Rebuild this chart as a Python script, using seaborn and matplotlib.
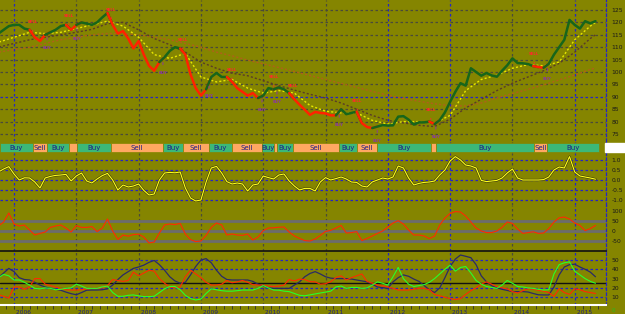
import numpy as np
import pandas as pd
import matplotlib
matplotlib.use("Agg")
import matplotlib.pyplot as plt
import seaborn as sns

sns.set_theme(style="white")
plt.rcParams["font.family"] = ["DejaVu Sans"]

# ---------------- data (monthly, starting Oct 2005) ----------------
START_YEAR = 2005.75
price = [115.5, 117, 118.5, 119, 119, 117.5, 117, 114, 112.5, 115,
         116, 117, 118.5, 119, 117, 119, 120, 119.5, 119, 120,
         122, 123.8, 119, 115.5, 116.5, 113.5, 109.5, 112.5, 107, 102.5,
         100.5, 104, 106, 108.5, 110, 109.5, 107, 99, 93.5, 90.5,
         93, 98, 99.6, 98, 98, 96, 93.5, 92, 90.5, 91.5,
         89.5, 90.5, 93.5, 93, 93.8, 93, 91.5, 89, 86.8, 84.8,
         82.7, 83.9, 83.5, 83.3, 82.5, 82.5, 85, 83, 83.5, 84,
         79.4, 77.8, 77.4, 78, 78.6, 78.4, 78.5, 82, 82.2, 80.8,
         78.8, 79.7, 79.7, 80, 79, 80.6, 83.7, 88, 92, 95.5,
         94.5, 101.5, 100, 98.5, 99.6, 98.6, 98.1, 100.5, 102.7, 105.5,
         103.6, 103.5, 103.2, 102.4, 102, 101.7, 103.3, 107, 110, 113,
         121, 119, 117.5, 120.5, 119.6, 120.5]

osc = [0.4, 0.55, 0.67, 0.3, 0.0, 0.11, 0.1, -0.1, -0.4, 0.1,
       0.18, 0.23, 0.25, 0.28, -0.05, 0.2, 0.35, -0.05, -0.15, 0.05,
       0.22, 0.33, 0.0, -0.5, -0.25, -0.35, -0.3, -0.2, -0.52, -0.75,
       -0.7, 0.0, 0.35, 0.38, 0.36, 0.4, -0.4, -0.9, -1.05, -1.0,
       -0.1, 0.6, 0.68, 0.35, -0.08, -0.2, -0.15, -0.2, -0.55, -0.25,
       -0.2, 0.2, 0.12, 0.05, 0.25, 0.3, -0.05, -0.3, -0.5, -0.42,
       -0.42, -0.55, -0.1, 0.12, 0.0, 0.07, 0.15, 0.05, -0.1, -0.12,
       -0.3, -0.35, -0.1, 0.0, 0.1, 0.05, 0.15, 0.7, 0.6, 0.1,
       -0.25, -0.17, -0.12, -0.1, -0.05, 0.25, 0.5, 0.95, 1.17, 1.0,
       0.75, 0.7, 0.6, -0.02, -0.08, -0.05, -0.02, 0.1, 0.35, 0.55,
       0.1, 0.0, 0.0, 0.0, 0.0, 0.02, 0.15, 0.5, 0.65, 0.6,
       1.17, 0.4, 0.2, 0.15, 0.1, 0.04]

cci = [25, 45, 90, 35, 25, 30, 5, -20, -12, -5,
       18, 25, 30, 15, -5, 27, 18, 18, 22, -3,
       15, 60, 0, -42, -20, -26, -18, -16, -30, -60,
       -55, -10, 30, 35, 32, 38, -15, -43, -53, -50,
       -22, 18, 40, 30, -20, -15, -20, -22, -15, -45,
       -30, 2, 15, 16, 19, 20, -5, -25, -37, -48,
       -50, -40, -22, -2, 3, 15, 28, -10, -8, -3,
       -48, -37, -25, -12, 0, 20, 40, 52, 35, 5,
       -20, -20, -25, -38, -25, 30, 65, 88, 97, 95,
       75, 45, 15, 0, -8, -8, 0, 18, 45, 38,
       10, -12, -8, -4, -12, -10, 12, 45, 66, 70,
       60, 40, 28, 2, 12, 28]

adx = [31, 36, 41, 37.5, 31, 29, 28.5, 26, 23, 21,
       19.5, 18.5, 17.5, 15.5, 13.8, 12.6, 15, 17.5, 17.7, 17.7,
       18, 19, 23, 29, 34, 37.5, 41, 42.5, 44.5, 47.5,
       49.5, 45, 39, 32, 27.5, 25, 26, 34, 43, 50,
       51.5, 47, 39, 32.5, 29, 28.5, 28.5, 28.5, 28.5, 27,
       24, 22, 20, 19.5, 19.5, 19.5, 19.5, 23, 26.5, 32,
       35.5, 37.5, 35, 32, 30.5, 30, 30, 30, 29.5, 28.5,
       27.5, 26.5, 24, 21, 20.3, 19.5, 26.5, 31, 34, 32.5,
       29.5, 27, 22.5, 18, 15, 20, 31, 43, 51, 55.4,
       54, 52.5, 45, 33, 26.5, 22.3, 20, 18.5, 17.3, 16,
       16, 16, 15.6, 14, 12.6, 12.4, 12.4, 21, 34, 42.5,
       45, 45.5, 42.5, 40, 37, 32]

di_minus = [12.5, 11, 9, 21, 21, 18.5, 21, 30, 30, 24,
            22.5, 21, 19.5, 18, 17.7, 17.7, 18, 19, 19.5, 19.5,
            20, 22.5, 29, 28, 27, 28, 37, 33, 36, 39,
            38, 30, 25, 21, 20, 21, 32, 39, 35, 31,
            26, 23, 23, 24, 28, 25.5, 26.5, 28, 26, 23.5,
            23, 23, 22, 21.5, 22, 23, 29, 27.5, 29.5, 29,
            26.7, 26.5, 24, 24.5, 26.7, 31, 33, 28.5, 31, 33,
            35, 27, 25, 23, 22, 21, 19.5, 17.7, 17.7, 17.7,
            18.5, 19.5, 19.5, 18, 13, 11.5, 10, 8.5, 7.5, 8.5,
            13, 17, 20, 24, 26.5, 24, 21.5, 20, 19, 16,
            14.5, 17, 19, 18.5, 17.5, 16.5, 15, 11, 19, 15,
            13, 19, 18, 16, 15, 14]

di_plus = [31, 34.5, 33, 28.5, 28.5, 26, 23, 19.5, 19, 20,
           19.5, 18, 18.5, 19.5, 20, 24, 22, 19.5, 19.5, 19.5,
           21, 22, 15, 11, 11, 12, 12.4, 11.5, 10.6, 10.6,
           11, 15, 19, 21.5, 21.5, 18, 12, 8.5, 7, 8,
           14, 19, 18, 17, 16.5, 16.5, 17, 17.7, 17.7, 17.7,
           19.5, 22.5, 20, 17.7, 17.5, 16.5, 16, 14, 12, 11.5,
           12.5, 13.5, 14.5, 15.5, 16.5, 21, 22, 19.5, 20.5, 20.5,
           19.5, 20, 23, 26.5, 25, 23, 32, 42, 30, 24,
           21.5, 22.5, 23.5, 26, 30, 35, 40, 44.5, 38, 42,
           43, 36, 28, 24, 21.5, 20.5, 19.5, 23, 28, 25,
           21.5, 21, 20, 19.5, 18.5, 17.7, 18, 35, 45, 47,
           48, 38, 34, 30, 27, 25]

# moving averages, read quarterly (last point = last bar)
ma_years = [2005.75 + 0.25 * k for k in range(39)] + [2015.333]
ma_short = [112, 114, 116, 115.5, 116, 117.5, 119, 120.5, 118.5, 114,
            107, 105.5, 107.5, 98, 96, 97, 93.5, 91.5, 92.5, 91.5,
            86.5, 84.2, 83.5, 83.5, 80.5, 79, 80, 80, 79.5, 82.5,
            92.5, 97, 98.7, 101.5, 103, 102.5, 104, 113, 118.5, 120]
ma_mid = [110, 111.5, 113, 114, 115, 116, 117.2, 119.5, 120, 117,
          113.5, 111, 108, 104, 101.5, 99.5, 98.5, 96.5, 94.5, 92.7,
          91, 89.5, 87.5, 85, 82.5, 80.5, 79.5, 78.5, 78, 81,
          85.5, 89, 92.5, 95.5, 98, 100.5, 103.5, 108, 113.5, 115]
ma_long = [108, 109, 110, 111.5, 113, 114, 115, 115.5, 115.5, 115,
           114, 113, 111.5, 110, 108, 106.5, 104.8, 103.3, 101.8, 100.2,
           98.6, 97, 95.4, 93.8, 92.2, 90.6, 89.3, 88.2, 87.2, 86.4,
           86.3, 87.5, 89.5, 91.3, 93, 94.8, 96.8, 98.8, 101, 101.6]

# signal regimes (decimal years)
sig_start = [2005.78, 2006.30, 2006.53, 2006.88, 2007.01, 2007.56, 2008.39,
             2008.71, 2009.13, 2009.50, 2009.98, 2010.17, 2010.22, 2010.48,
             2011.22, 2011.51, 2011.83, 2012.69, 2012.77, 2014.35, 2014.56]
sig_end = sig_start[1:] + [2015.39]
sig_type = ["Buy", "Sell"] * 10 + ["Buy"]

year_ticks = list(range(2006, 2016))
blue_years = [2006, 2012, 2013, 2015]

# ---------------- layout ----------------
W, H = 625, 314
OLIVE = "#858500"
NAVY = "#1c1c8a"
GRIDBLUE = "#2424c8"
GRIDGRAY = "#4a4a3a"
XMIN, XMAX = 2005.775, 2015.502

fig = plt.figure(figsize=(W / 100, H / 100), dpi=100, facecolor=OLIVE)


def panel(top, bottom):
    ax = fig.add_axes([0, 1 - bottom / H, 606 / W, (bottom - top) / H])
    ax.set_facecolor(OLIVE)
    ax.set_xlim(XMIN, XMAX)
    for s in ax.spines.values():
        s.set_visible(False)
    ax.spines["right"].set_visible(True)
    ax.spines["right"].set_color(GRIDBLUE)
    ax.spines["right"].set_linestyle((0, (2, 2)))
    ax.spines["right"].set_linewidth(0.9)
    ax.set_xticks([])
    ax.yaxis.tick_right()
    ax.tick_params(axis="y", length=0, pad=4, labelsize=4.3, labelcolor="#1a1a1a")
    for yr in year_ticks:
        ax.axvline(yr, color=GRIDBLUE if yr in blue_years else GRIDGRAY,
                   lw=0.9, ls=(0, (2, 2)), zorder=0)
    return ax


years = START_YEAR + np.arange(len(price)) / 12.0
price_a = np.array(price)

# ---- price panel ----
axp = panel(0, 141)
axp.set_ylim(72.18, 129.03)
pt = list(range(75, 130, 5))
axp.set_yticks(pt)
axp.set_yticklabels([str(v) for v in pt])
for v in pt:
    axp.axhline(v, color=GRIDBLUE if v == 90 else GRIDGRAY, lw=0.9,
                ls=(0, (2, 2)), zorder=0)

sns.lineplot(x=ma_years, y=ma_long, ax=axp, color="#b0601a", lw=1.0,
             linestyle=(0, (1.5, 1.5)), zorder=2)
sns.lineplot(x=ma_years, y=ma_mid, ax=axp, color="#5a3c28", lw=1.0,
             linestyle=(0, (1.5, 1.5)), zorder=2)
sns.lineplot(x=ma_years, y=ma_short, ax=axp, color="#e6e600", lw=1.0,
             linestyle=(0, (1.5, 1.5)), zorder=3)

n = len(price)
for s, e, t in zip(sig_start, sig_end, sig_type):
    idx = np.where((years >= s) & (years < e))[0]
    if len(idx) == 0:
        lo = max(np.searchsorted(years, s) - 1, 0)
        hi = min(lo + 1, n - 1)
    else:
        lo = max(idx[0] - 1, 0)
        hi = min(idx[-1] + 1, n - 1)
    col = "#17661a" if t == "Buy" else "#ff2200"
    sns.lineplot(x=years[lo:hi + 1], y=price_a[lo:hi + 1], ax=axp,
                 color=col, lw=1.8, zorder=4)

for s, t in zip(sig_start[1:], sig_type[1:]):
    p = np.interp(s, years, price_a)
    if t == "Sell":
        axp.annotate("SELL", xy=(s, p + 1.2), xytext=(0, 5),
                     textcoords="offset points", ha="center", va="bottom",
                     fontsize=2.8, color="#ff2a2a", fontweight="bold",
                     arrowprops=dict(arrowstyle="-", color="#ff2a2a", lw=0.7),
                     zorder=6)
    else:
        axp.annotate("BUY", xy=(s, p - 1.5), xytext=(0, -6),
                     textcoords="offset points", ha="center", va="top",
                     fontsize=2.8, color="#8a3a9a", fontweight="bold",
                     arrowprops=dict(arrowstyle="-", color="#8a3a9a", lw=0.7),
                     zorder=6)

# ---- signal bar ----
axs = panel(142, 153)
axs.set_ylim(0, 1)
axs.set_yticks([])
colors = {"Buy": "#3cb878", "Sell": "#ffa862"}
axs.barh(y=[0.5] * len(sig_start), width=np.array(sig_end) - np.array(sig_start),
         left=sig_start, height=0.9, color=[colors[t] for t in sig_type],
         edgecolor=OLIVE, lw=0.5, zorder=2)
for s, e, t in zip(sig_start, sig_end, sig_type):
    if e - s > 0.16:
        axs.text((s + e) / 2, 0.48, t, ha="center", va="center", fontsize=5,
                 color=NAVY, zorder=3)
fig.patches.append(plt.Rectangle((605 / W, 1 - 152 / H), 20 / W, 9 / H,
                                 transform=fig.transFigure, color="white"))

# ---- oscillator ----
axo = panel(153, 205)
axo.set_ylim(-1.25, 1.35)
ot = [-1.0, -0.5, 0.0, 0.5, 1.0]
axo.set_yticks(ot)
axo.set_yticklabels([f"{v:.1f}" for v in ot])
for v in ot:
    axo.axhline(v, color=GRIDBLUE, lw=0.9, ls=(0, (2, 2)), zorder=0)
sns.lineplot(x=years, y=osc, ax=axo, color="#3a3a00", lw=1.6, zorder=2)
sns.lineplot(x=years, y=osc, ax=axo, color="#ffff20", lw=0.8, zorder=3)

# ---- CCI ----
axc = panel(205, 251)
axc.set_ylim(-100, 130)
ct = [-50, 0, 50, 100]
axc.set_yticks(ct)
axc.set_yticklabels([str(v) for v in ct])
for v in [-50, 0, 50]:
    axc.axhline(v, color="#6c6c6c", lw=2.0, zorder=1)
sns.lineplot(x=years, y=cci, ax=axc, color="#ff2a00", lw=0.8, zorder=3)

# ---- ADX ----
axa = panel(251, 305)
axa.set_ylim(1.6, 59.7)
at = [10, 20, 30, 40, 50]
axa.set_yticks(at)
axa.set_yticklabels([str(v) for v in at])
for v in [10, 20, 40, 50]:
    axa.axhline(v, color=GRIDBLUE, lw=0.9, ls=(0, (2, 2)), zorder=0)
axa.axhline(25, color="#111111", lw=1.0, zorder=1)
axa.spines["top"].set_visible(True)
axa.spines["top"].set_color("#111111")
axa.spines["top"].set_linewidth(1.2)
axa.spines["bottom"].set_visible(True)
axa.spines["bottom"].set_color("white")
axa.spines["bottom"].set_linewidth(1.5)
sns.lineplot(x=years, y=adx, ax=axa, color="#2a2a66", lw=0.9, zorder=3)
sns.lineplot(x=years, y=di_minus, ax=axa, color="#ff2a00", lw=0.8, zorder=3)
sns.lineplot(x=years, y=di_plus, ax=axa, color="#2aff2a", lw=0.8, zorder=3)

axa.set_xticks(year_ticks)
axa.set_xticklabels([f" {y}" for y in year_ticks], ha="left")
axa.set_xticks(np.arange(2005.875, 2015.5, 0.125), minor=True)
axa.tick_params(axis="x", which="both", direction="out", length=3, width=0.6,
                color="#303030", labelsize=4.3, labelcolor=NAVY, pad=0.5,
                bottom=True)
axa.set_xlim(XMIN, XMAX)

fig.text(613 / W, 1 - 311 / H, "0", fontsize=4, color="#20c020",
         ha="center", va="center")

fig.savefig("out.png", dpi=100, facecolor=OLIVE)
